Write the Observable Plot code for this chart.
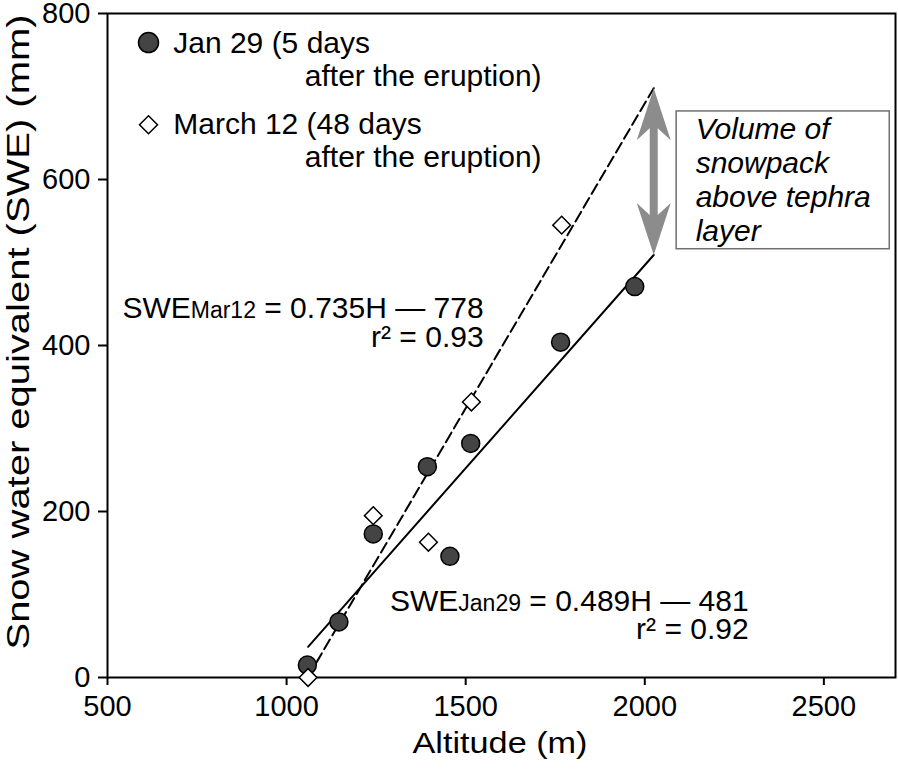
<!DOCTYPE html>
<html><head><meta charset="utf-8">
<script src="https://cdn.jsdelivr.net/npm/d3@7"></script>
<script src="https://cdn.jsdelivr.net/npm/@observablehq/plot@0.6"></script>
<style>body{margin:0;background:#fff} svg{display:block}</style>
</head><body><div id="chart"></div>
<script>
// Observations
const janAltitude = [1058, 1146, 1242, 1393, 1456, 1514, 1765, 1972];
const janSWE      = [15, 67, 173, 254, 146, 282, 404, 471];
const marAltitude = [1060, 1242, 1396, 1516, 1768];
const marSWE      = [0, 195, 163, 332, 545];
// Regression lines (end points)
const janFitAltitude = [1060, 2025];
const janFitSWE      = [37, 509];
const marFitAltitude = [1060, 2025];
const marFitSWE      = [1, 710];
// Ticks
const xTicks = [500, 1000, 1500, 2000, 2500];
const yTicks = [0, 200, 400, 600, 800];
// Texts
const legendLabels = ["Jan 29 (5 days", "after the eruption)", "March 12 (48 days", "after the eruption)"];
const eqMarParts = ["SWE", "Mar12", " = 0.735H \u2014 778"];
const eqJanParts = ["SWE", "Jan29", " = 0.489H \u2014 481"];
const r2Mar = "r\u00b2 = 0.93";
const r2Jan = "r\u00b2 = 0.92";
const boxText = "Volume of\nsnowpack\nabove tephra\nlayer";
const xTitle = "Altitude (m)";
const yTitle = "Snow water equivalent (SWE) (mm)";

const jan = janAltitude.map((a, i) => ({x: a, y: janSWE[i]}));
const mar = marAltitude.map((a, i) => ({x: a, y: marSWE[i]}));
const janFit = janFitAltitude.map((a, i) => ({x: a, y: janFitSWE[i]}));
const marFit = marFitAltitude.map((a, i) => ({x: a, y: marFitSWE[i]}));

// Annotation anchors (data units)
const arrowX = 2025;
const arrowTop = 710, arrowBottom = 509;
const boxX1 = 2089, boxX2 = 2684, boxY1 = 516, boxY2 = 682;

const arrowHead = {
  draw(ctx, size) {
    const s = Math.sqrt(size / Math.PI) / 10;
    ctx.moveTo(0, 0);
    ctx.lineTo(17 * s, 52 * s);
    ctx.lineTo(4 * s, 40 * s);
    ctx.lineTo(-4 * s, 40 * s);
    ctx.lineTo(-17 * s, 52 * s);
    ctx.closePath();
  }
};

const font = "'Liberation Sans', Arial, Helvetica, sans-serif";

const chart = Plot.plot({
  width: 898, height: 770,
  marginLeft: 107, marginRight: 3, marginTop: 13, marginBottom: 93,
  style: {fontFamily: font, fontSize: "29px", color: "black", background: "white"},
  x: {domain: [500, 2700]},
  y: {domain: [0, 800]},
  marks: [
    Plot.axisX({ticks: xTicks, tickSize: 8, tickPadding: 10, tickFormat: d => String(d), label: null, strokeWidth: 2, fontSize: 29}),
    Plot.axisY({ticks: yTicks, tickSize: 9, tickPadding: 8, tickFormat: d => String(d), label: null, strokeWidth: 2, fontSize: 29}),
    Plot.frame({stroke: "black", strokeWidth: 2}),
    Plot.line(janFit, {x: "x", y: "y", stroke: "black", strokeWidth: 2}),
    Plot.line(marFit, {x: "x", y: "y", stroke: "black", strokeWidth: 2, strokeDasharray: "11,5"}),
    Plot.dot(jan, {x: "x", y: "y", r: 9, symbol: "circle", fill: "#444", stroke: "black", strokeWidth: 1.5}),
    Plot.dot(mar, {x: "x", y: "y", r: 8, symbol: "diamond2", fill: "white", stroke: "black", strokeWidth: 1.5}),
    // double arrow
    Plot.ruleX([arrowX], {y1: arrowTop, y2: arrowBottom, insetTop: 36, insetBottom: 36, stroke: "#8c8c8c", strokeWidth: 8}),
    Plot.dot([{x: arrowX, y: arrowTop, rot: 0}, {x: arrowX, y: arrowBottom, rot: 180}], {x: "x", y: "y", rotate: "rot", r: 10, symbol: arrowHead, fill: "#8c8c8c", stroke: "none"}),
    // box
    Plot.rect([0], {x1: boxX1, x2: boxX2, y1: boxY1, y2: boxY2, fill: "white", stroke: "#707070", strokeWidth: 1.5}),
    Plot.text([boxText], {x: 2142, y: 526.5, text: d => d, textAnchor: "start", lineAnchor: "bottom", lineHeight: 1.133, fontSize: 30, fontStyle: "italic"}),
    // legend
    Plot.dot([0], {x: 614.5, y: 765, r: 10, symbol: "circle", fill: "#444", stroke: "black", strokeWidth: 1.5}),
    Plot.dot([0], {x: 614.5, y: 666, r: 8.1, symbol: "diamond2", fill: "white", stroke: "black", strokeWidth: 1.5}),
    Plot.text([legendLabels[0]], {x: 683.5, y: 753, text: d => d, textAnchor: "start", lineAnchor: "bottom", fontSize: 30}),
    Plot.text([legendLabels[1]], {x: 1712, y: 713, text: d => d, textAnchor: "end", lineAnchor: "bottom", fontSize: 30}),
    Plot.text([legendLabels[2]], {x: 683.5, y: 655, text: d => d, textAnchor: "start", lineAnchor: "bottom", fontSize: 30}),
    Plot.text([legendLabels[3]], {x: 1712, y: 615.5, text: d => d, textAnchor: "end", lineAnchor: "bottom", fontSize: 30}),
    // equations
    Plot.text([eqMarParts.join("")], {x: 1550, y: 433.7, text: d => d, textAnchor: "end", lineAnchor: "bottom", fontSize: 30}),
    Plot.text([r2Mar], {x: 1550, y: 397.6, text: d => d, textAnchor: "end", lineAnchor: "bottom", fontSize: 30}),
    Plot.text([eqJanParts.join("")], {x: 2290, y: 80.7, text: d => d, textAnchor: "end", lineAnchor: "bottom", fontSize: 30}),
    Plot.text([r2Jan], {x: 2290, y: 45.8, text: d => d, textAnchor: "end", lineAnchor: "bottom", fontSize: 30}),
    // axis titles
    Plot.text([xTitle], {frameAnchor: "bottom", dx: -89, dy: 75, text: d => d, textAnchor: "start", lineAnchor: "bottom", fontSize: 29}),
    Plot.text([yTitle], {frameAnchor: "left", dx: -79, dy: 304, rotate: -90, text: d => d, textAnchor: "start", lineAnchor: "bottom", fontSize: 31})
  ]
});

const ns = "http://www.w3.org/2000/svg";
const texts = Array.from(chart.querySelectorAll("text"));
function subscriptify(parts) {
  const full = parts.join("");
  texts.filter(t => t.textContent === full).forEach(t => {
    while (t.firstChild) t.removeChild(t.firstChild);
    t.appendChild(document.createTextNode(parts[0]));
    const sub = document.createElementNS(ns, "tspan");
    sub.setAttribute("font-size", "23");
    sub.style.fontSize = "23px";
    sub.textContent = parts[1];
    t.appendChild(sub);
    const rest = document.createElementNS(ns, "tspan");
    rest.textContent = parts[2];
    t.appendChild(rest);
  });
}
subscriptify(eqMarParts);
subscriptify(eqJanParts);
function stretch(str, len) {
  texts.filter(t => t.textContent === str).forEach(t => {
    t.setAttribute("textLength", len);
    t.setAttribute("lengthAdjust", "spacingAndGlyphs");
  });
}
stretch(xTitle, 175);
stretch(yTitle, 635);

document.getElementById("chart").appendChild(chart);
</script>
</body></html>
